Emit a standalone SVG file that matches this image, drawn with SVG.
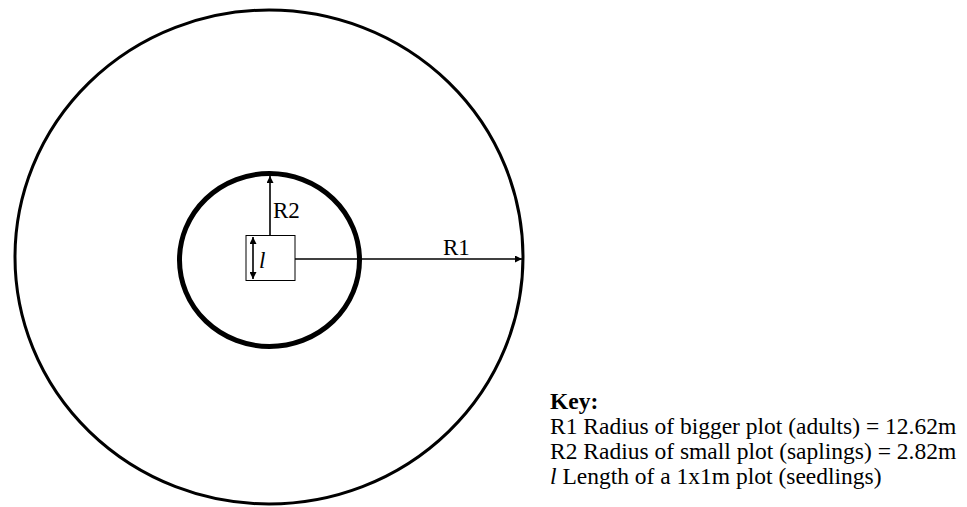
<svg xmlns="http://www.w3.org/2000/svg" width="967" height="507" viewBox="0 0 967 507">
<style>
.t{font-family:"Liberation Serif","Times New Roman",serif;font-size:23px;fill:#000}
.k{font-size:23.5px}
.c{fill:none;stroke:#000}
.ln{stroke:#000;stroke-width:1.6;fill:none}
</style>
<defs>
<marker id="ah" viewBox="0 0 10 10" refX="10" refY="5" markerWidth="7" markerHeight="7" markerUnits="userSpaceOnUse" orient="auto-start-reverse">
<path d="M0,0 L10,5 L0,10 z" fill="#000"/>
</marker>
</defs>
<rect width="967" height="507" fill="#fff"/>
<g id="outer-plot"><ellipse class="c" cx="269" cy="257" rx="254" ry="247" stroke-width="3"/></g>
<g id="inner-plot"><ellipse class="c" cx="269.5" cy="260" rx="90" ry="86.5" stroke-width="5"/></g>
<g id="seedling-plot"><rect x="246" y="235.5" width="49" height="45" fill="#fff" stroke="#000" stroke-width="1"/></g>
<g id="connectors">
<line class="ln" x1="270" y1="235" x2="270" y2="176" marker-end="url(#ah)"/>
<line class="ln" x1="295" y1="259" x2="522" y2="259" marker-end="url(#ah)"/>
<line class="ln" x1="253" y1="237" x2="253" y2="279" marker-start="url(#ah)" marker-end="url(#ah)"/>
</g>
<g id="labels">
<text class="t" x="273" y="218">R2</text>
<text class="t" x="443" y="255">R1</text>
<text class="t" x="259" y="268" font-style="italic">l</text>
</g>
<g id="key">
<text class="t k" x="550" y="409" font-weight="bold">Key:</text>
<text class="t k" x="550" y="434">R1 Radius of bigger plot (adults) = 12.62m</text>
<text class="t k" x="550" y="459">R2 Radius of small plot (saplings) = 2.82m</text>
<text class="t k" x="550" y="484"><tspan font-style="italic">l</tspan> Length of a 1x1m plot (seedlings)</text>
</g>
</svg>
